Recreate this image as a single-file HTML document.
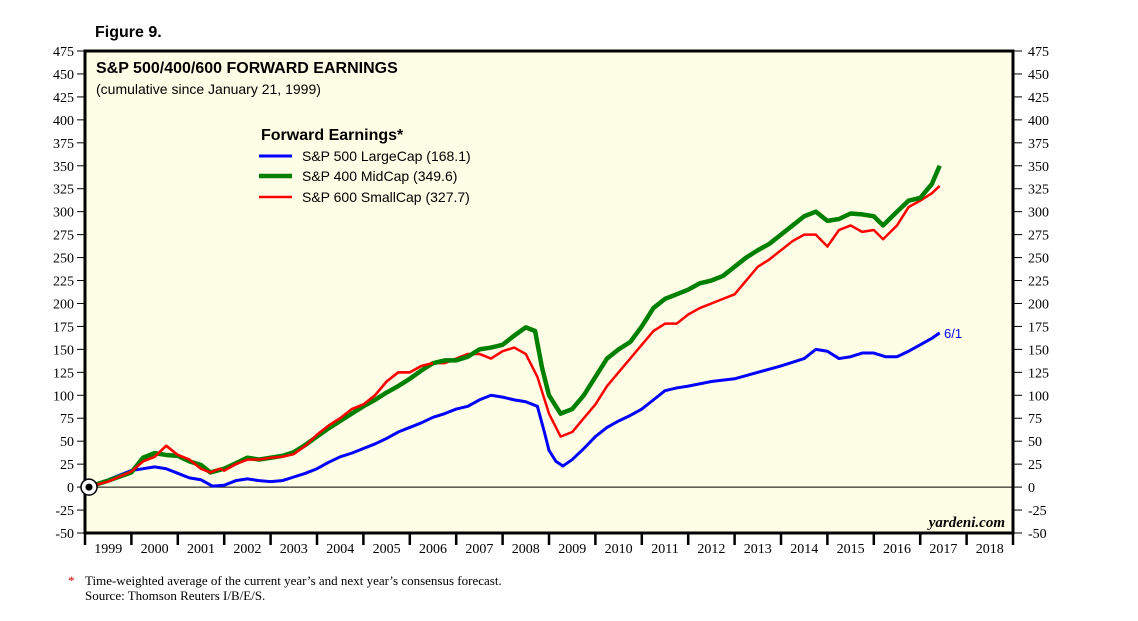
<!DOCTYPE html>
<html><head><meta charset="utf-8"><style>
body{margin:0;background:#fff;width:1138px;height:621px;overflow:hidden;font-family:"Liberation Sans",sans-serif}
svg{display:block}
</style></head><body>
<svg id="c" width="1138" height="621"></svg>
<script>
const years=[1999,2000,2001,2002,2003,2004,2005,2006,2007,2008,2009,2010,2011,2012,2013,2014,2015,2016,2017,2018];
const yTicks=[-50,-25,0,25,50,75,100,125,150,175,200,225,250,275,300,325,350,375,400,425,450,475];
const blueDates=[1999.05,1999.5,2000,2000.5,2000.75,2001,2001.25,2001.5,2001.75,2002,2002.25,2002.5,2002.75,2003,2003.25,2003.5,2003.75,2004,2004.25,2004.5,2004.75,2005,2005.25,2005.5,2005.75,2006,2006.25,2006.5,2006.75,2007,2007.25,2007.5,2007.75,2008,2008.25,2008.5,2008.75,2008.9,2009,2009.15,2009.3,2009.5,2009.75,2010,2010.25,2010.5,2010.75,2011,2011.25,2011.5,2011.75,2012,2012.5,2013,2013.5,2014,2014.5,2014.75,2015,2015.25,2015.5,2015.75,2016,2016.25,2016.5,2016.75,2017,2017.25,2017.42];
const blueVals=[0,8,18,22,20,15,10,8,1,2,7,9,7,6,7,11,15,20,27,33,37,42,47,53,60,65,70,76,80,85,88,95,100,98,95,93,88,60,40,28,23,30,42,55,65,72,78,85,95,105,108,110,115,118,125,132,140,150,148,140,142,146,146,142,142,148,155,162,168];
const greenDates=[1999.05,1999.5,2000,2000.25,2000.5,2000.75,2001,2001.25,2001.5,2001.7,2002,2002.25,2002.5,2002.75,2003,2003.25,2003.5,2003.75,2004,2004.25,2004.5,2004.75,2005,2005.25,2005.5,2005.75,2006,2006.25,2006.5,2006.75,2007,2007.25,2007.5,2007.75,2008,2008.25,2008.5,2008.7,2008.85,2009,2009.25,2009.5,2009.75,2010,2010.25,2010.5,2010.75,2011,2011.25,2011.5,2011.75,2012,2012.25,2012.5,2012.75,2013,2013.25,2013.5,2013.75,2014,2014.25,2014.5,2014.75,2015,2015.25,2015.5,2015.75,2016,2016.2,2016.5,2016.75,2017,2017.25,2017.42];
const greenVals=[0,7,16,32,37,35,34,28,24,16,20,26,32,30,32,34,38,46,55,64,72,80,88,95,103,110,118,127,135,138,138,142,150,152,155,165,174,170,130,100,80,85,100,120,140,150,158,175,195,205,210,215,222,225,230,240,250,258,265,275,285,295,300,290,292,298,297,295,285,300,312,315,330,350];
const redDates=[1999.05,1999.5,2000,2000.25,2000.5,2000.75,2001,2001.25,2001.5,2001.7,2001.9,2002,2002.25,2002.5,2002.75,2003,2003.25,2003.5,2003.75,2004,2004.25,2004.5,2004.75,2005,2005.25,2005.5,2005.75,2006,2006.25,2006.5,2006.75,2007,2007.25,2007.5,2007.75,2008,2008.25,2008.5,2008.75,2009,2009.25,2009.5,2009.75,2010,2010.25,2010.5,2010.75,2011,2011.25,2011.5,2011.75,2012,2012.25,2012.5,2012.75,2013,2013.25,2013.5,2013.75,2014,2014.25,2014.5,2014.75,2015,2015.25,2015.5,2015.75,2016,2016.2,2016.5,2016.75,2017,2017.25,2017.42];
const redVals=[0,6,17,28,33,45,35,30,20,16,20,18,25,30,30,32,33,36,45,57,67,75,85,90,100,115,125,125,132,135,135,140,145,145,140,148,152,145,120,80,55,60,75,90,110,125,140,155,170,178,178,188,195,200,205,210,225,240,248,258,268,275,275,262,280,285,278,280,270,285,305,312,320,328];

const NS='http://www.w3.org/2000/svg';
const svg=document.getElementById('c');
const L=85,R=1013,T=51,B=533;
const xs=y=>L+(y-1999)*(R-L)/20;
const ys=v=>B-(v+50)*(B-T)/525;
function el(t,a,p){const e=document.createElementNS(NS,t);for(const k in a)e.setAttribute(k,a[k]);(p||svg).appendChild(e);return e;}
function tx(x,y,s,a){const e=el('text',Object.assign({x:x,y:y},a));e.textContent=s;return e;}

const bg=el('rect',{x:L,y:T,width:R-L,height:B-T,fill:'#fefee6'});


const zl=el('line',{x1:L,x2:R,y1:ys(0),y2:ys(0),stroke:'#000','stroke-width':1});



const yl=el('g',{'font-family':'Liberation Serif, serif','font-size':'14',fill:'#000'});


yTicks.forEach(v=>{
 const y=ys(v);
 el('line',{x1:L-8,x2:L,y1:y,y2:y,stroke:'#000'},yl);
 el('line',{x1:R,x2:R+9,y1:y,y2:y,stroke:'#000'},yl);
 const a=el('text',{x:L-11,y:y+5,'text-anchor':'end'},yl);a.textContent=v;
 const b=el('text',{x:R+15,y:y+5},yl);b.textContent=v;
});
const xl=el('g',{'font-family':'Liberation Serif, serif','font-size':'14',fill:'#000'});


years.forEach(yr=>{
 el('line',{x1:xs(yr),x2:xs(yr),y1:B,y2:B+12,stroke:'#000','stroke-width':2.5},xl);
 const t=el('text',{x:xs(yr+0.5),y:B+20,'text-anchor':'middle'},xl);t.textContent=yr;
});
el('line',{x1:R,x2:R,y1:B,y2:B+12,stroke:'#000','stroke-width':2.5},xl);

function series(d,v,col,w,name){
 const p=el('polyline',{points:d.map((x,i)=>xs(x)+','+ys(v[i])).join(' '),fill:'none',stroke:col,'stroke-width':w,'stroke-linejoin':'round'});
 
 
}
series(blueDates,blueVals,'#0000ff',3,'series-sp500-largecap');
series(redDates,redVals,'#ff0000',2.5,'series-sp600-smallcap');
series(greenDates,greenVals,'#008000',4.5,'series-sp400-midcap');
series(redDates.slice(0,30),redVals.slice(0,30),'#ff0000',2.5,'series-sp600-early');

const fr=el('rect',{x:L,y:T,width:R-L,height:B-T,fill:'none',stroke:'#000','stroke-width':3});


const c1=el('circle',{cx:89,cy:ys(0),r:8,fill:'#fff',stroke:'#000','stroke-width':1.5});


el('circle',{cx:89,cy:ys(0),r:3.5,fill:'#000'});

let t;
t=tx(95,37,'Figure 9.',{'font-size':'16','font-weight':'bold'});
t=tx(96,73,'S&P 500/400/600 FORWARD EARNINGS',{'font-size':'16','font-weight':'bold'});
t=tx(96,94,'(cumulative since January 21, 1999)',{'font-size':'14'});
t=tx(261,140,'Forward Earnings*',{'font-size':'16','font-weight':'bold'});
const leg=[['#0000ff',3,'S&P 500 LargeCap (168.1)',161],['#008000',4.5,'S&P 400 MidCap (349.6)',181],['#ff0000',2.5,'S&P 600 SmallCap (327.7)',202]];
leg.forEach(l=>{
 const g=el('g',{});
 
 
 el('line',{x1:259,x2:292,y1:l[3]-5,y2:l[3]-5,stroke:l[0],'stroke-width':l[1]},g);
 const a=el('text',{x:302,y:l[3],'font-size':'14'},g);a.textContent=l[2];
});
t=tx(944,338,'6/1',{'font-size':'13',fill:'#0000ff'});
t=tx(1005,527,'yardeni.com',{'font-size':'15','font-style':'italic','font-weight':'bold','font-family':'Liberation Serif, serif','text-anchor':'end'});
t=tx(68,585,'*',{'font-size':'13',fill:'#c00','font-family':'Liberation Serif, serif'});
t=tx(85,585,'Time-weighted average of the current year\u2019s and next year\u2019s consensus forecast.',{'font-size':'13','font-family':'Liberation Serif, serif'});
t=tx(85,600,'Source: Thomson Reuters I/B/E/S.',{'font-size':'13','font-family':'Liberation Serif, serif'});
</script>
</body></html>
